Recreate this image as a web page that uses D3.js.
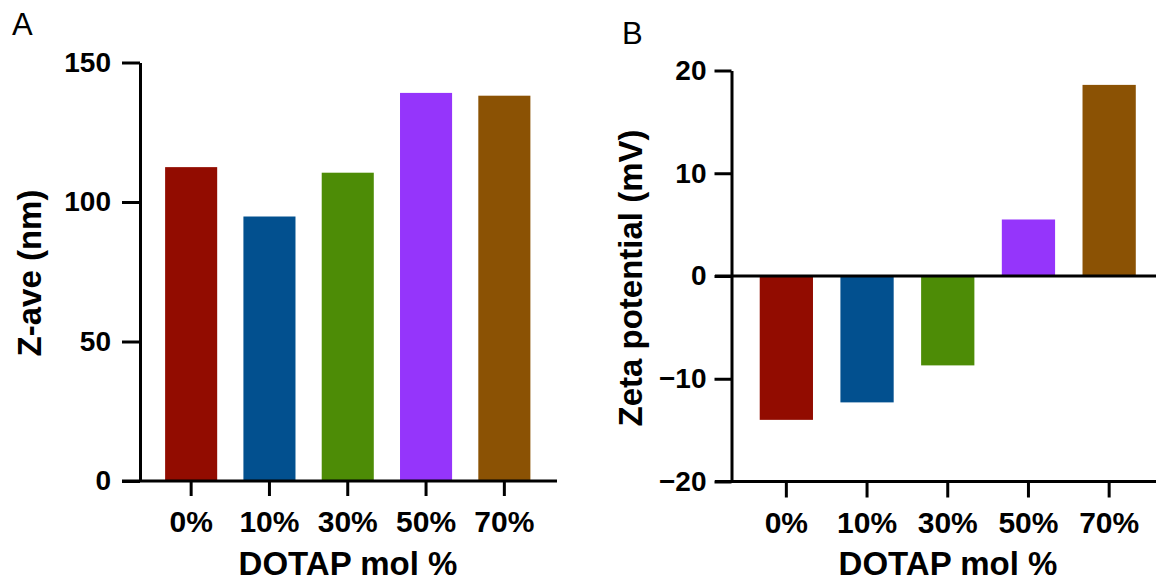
<!DOCTYPE html>
<html>
<head>
<meta charset="utf-8">
<script src="https://cdn.jsdelivr.net/npm/d3@7"></script>
<style>
    body { margin: 0; background: #fff; }
    text { font-family: "Liberation Sans", Arial, sans-serif; }
    .tick text { font-weight: bold; font-size: 28px; fill: #000; }
    .x.axis .tick text { font-size: 30px; }
    .axis path, .axis line { stroke: #000; stroke-width: 3px; }
</style>
</head>
<body>
<div id="chartDivId"></div>
<script>
// data
const categories = ["0%", "10%", "30%", "50%", "70%"];
const zAve = [112.5, 94.8, 110.5, 139.1, 138.1];
const zeta = [-14.0, -12.3, -8.7, 5.5, 18.6];
const barColors = ["#920c00", "#02508f", "#4d8c06", "#9535fb", "#8b5204"];
const zTicks = [0, 50, 100, 150];
const zetaTicks = [-20, -10, 0, 10, 20];

const width = 1156, height = 583;

var svg = d3.select("#chartDivId")
    .append("svg")
    .attr("width", width)
    .attr("height", height);

var c = d3.scaleOrdinal().domain(categories).range(barColors);

// ---------- Panel A ----------
var xA = d3.scaleBand().domain(categories).range([152, 543.5])
    .paddingInner(0.335).paddingOuter(0.1675);
var yA = d3.scaleLinear().domain([0, 150]).range([481, 62.5]);

svg.append("g").selectAll("rect")
    .data(categories)
    .enter().append("rect")
    .attr("x", function(d) { return xA(d); })
    .attr("width", xA.bandwidth())
    .attr("y", function(d, i) { return yA(zAve[i]); })
    .attr("height", function(d, i) { return yA(0) - yA(zAve[i]); })
    .style("fill", function(d) { return c(d); });

svg.append("g")
    .attr("class", "y axis")
    .attr("transform", "translate(140,0)")
    .call(d3.axisLeft(yA).tickValues(zTicks).tickSize(18).tickSizeOuter(0).tickPadding(11));

var gxA = svg.append("g")
    .attr("class", "x axis")
    .attr("transform", "translate(0," + yA(0) + ")")
    .call(d3.axisBottom(xA).tickSize(15).tickPadding(15));
gxA.select(".domain").remove();
gxA.append("line")
    .attr("x1", 122).attr("x2", 557)
    .attr("y1", 0).attr("y2", 0);

svg.append("text")
    .attr("x", 12).attr("y", 35)
    .style("font-size", "31px")
    .text("A");

svg.append("text")
    .attr("transform", "translate(41,273) rotate(-90)")
    .attr("text-anchor", "middle")
    .style("font-size", "33px").style("font-weight", "bold")
    .text("Z-ave (nm)");

svg.append("text")
    .attr("x", 348).attr("y", 575)
    .attr("text-anchor", "middle")
    .style("font-size", "33px").style("font-weight", "bold")
    .text("DOTAP mol %");

// ---------- Panel B ----------
var xB = d3.scaleBand().domain(categories).range([746, 1149.5])
    .paddingInner(0.34).paddingOuter(0.17);
var yB = d3.scaleLinear().domain([-20, 20]).range([481.5, 70.5]);

svg.append("g").selectAll("rect")
    .data(categories)
    .enter().append("rect")
    .attr("x", function(d) { return xB(d); })
    .attr("width", xB.bandwidth())
    .attr("y", function(d, i) { return yB(Math.max(0, zeta[i])); })
    .attr("height", function(d, i) { return Math.abs(yB(zeta[i]) - yB(0)); })
    .style("fill", function(d) { return c(d); });

svg.append("g")
    .attr("class", "y axis")
    .attr("transform", "translate(731.5,0)")
    .call(d3.axisLeft(yB).tickValues(zetaTicks).tickSize(17).tickSizeOuter(0).tickPadding(8));

// zero line
svg.append("line")
    .attr("x1", 715).attr("x2", 1156)
    .attr("y1", yB(0)).attr("y2", yB(0))
    .style("stroke", "#000").style("stroke-width", 3);

var gxB = svg.append("g")
    .attr("class", "x axis")
    .attr("transform", "translate(0," + yB(-20) + ")")
    .call(d3.axisBottom(xB).tickSize(16).tickPadding(14));
gxB.select(".domain").remove();
gxB.append("line")
    .attr("x1", 715).attr("x2", 1156)
    .attr("y1", 0).attr("y2", 0);

svg.append("text")
    .attr("x", 622).attr("y", 44)
    .style("font-size", "31px")
    .text("B");

svg.append("text")
    .attr("transform", "translate(642,278) rotate(-90)")
    .attr("text-anchor", "middle")
    .style("font-size", "33px").style("font-weight", "bold")
    .text("Zeta potential (mV)");

svg.append("text")
    .attr("x", 948).attr("y", 575)
    .attr("text-anchor", "middle")
    .style("font-size", "33px").style("font-weight", "bold")
    .text("DOTAP mol %");
</script>
</body>
</html>
